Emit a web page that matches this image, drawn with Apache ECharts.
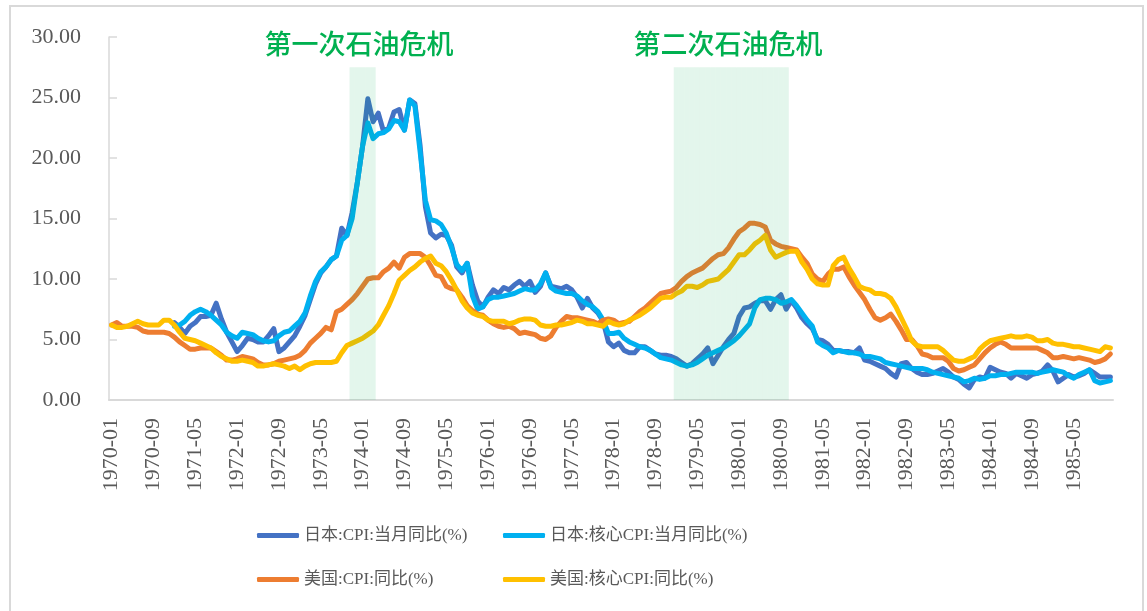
<!DOCTYPE html>
<html>
<head>
<meta charset="utf-8">
<script src="https://cdn.jsdelivr.net/npm/echarts@6/dist/echarts.min.js"></script>
<style>
  html, body { margin: 0; padding: 0; background: #fff; }
  #main { width: 1147px; height: 611px; }
</style>
</head>
<body>
<div id="main"></div>
<script>
// months 1970-01 .. 1985-12
const years = [1970, 1971, 1972, 1973, 1974, 1975, 1976, 1977, 1978, 1979, 1980, 1981, 1982, 1983, 1984, 1985];
const months = [];
years.forEach(function (y) {
  for (let m = 1; m <= 12; m++) months.push(y + "-" + (m < 10 ? "0" + m : m));
});

// 日本:CPI:当月同比(%)
const jpCpi = [
  null, null, null, null, null, null, null, null, null, null, null, null,
  6.4, 6.0, 5.5, 6.1, 6.4, 6.9, 6.9, 7.0, 8.0, 6.7, 5.6, 4.8,
  4.0, 4.5, 5.1, 5.0, 4.8, 4.8, 5.3, 5.9, 4.0, 4.3, 4.8, 5.3,
  6.1, 7.0, 8.3, 9.6, 10.5, 11.0, 11.6, 11.9, 14.2, 13.6, 15.5, 18.0,
  21.0, 24.9, 23.0, 23.7, 22.2, 22.5, 23.8, 24.0, 22.3, 24.8, 24.5, 21.0,
  16.0, 13.8, 13.4, 13.7, 13.6, 12.8, 11.0, 10.5, 11.3, 9.5, 8.2, 7.7,
  8.5, 9.1, 8.8, 9.3, 9.1, 9.5, 9.8, 9.4, 9.8, 8.9, 9.4, 10.5,
  9.4, 9.3, 9.2, 9.4, 9.1, 8.5, 7.6, 8.4, 7.6, 7.2, 6.5, 4.8,
  4.4, 4.7, 4.1, 3.9, 3.9, 4.4, 4.4, 4.1, 3.8, 3.7, 3.7, 3.6,
  3.4, 3.1, 2.8, 3.0, 3.4, 3.8, 4.3, 3.0, 3.7, 4.4, 5.0, 5.5,
  6.9, 7.6, 7.7, 8.0, 8.2, 8.2, 7.5, 8.3, 8.7, 7.5, 8.2, 7.6,
  6.8, 6.3, 5.9, 5.0, 4.9, 4.6, 4.1, 4.1, 4.0, 4.0, 3.9, 4.3,
  3.3, 3.2, 3.0, 2.8, 2.6, 2.2, 1.9, 3.0, 3.1, 2.6, 2.3, 2.1,
  2.1, 2.2, 2.4, 2.6, 2.3, 1.9, 1.7, 1.3, 1.0, 1.7, 1.9, 1.8,
  2.7, 2.5, 2.3, 2.2, 1.8, 2.2, 2.0, 1.8, 2.1, 2.2, 2.4, 2.9,
  2.4, 1.5, 1.8, 2.1, 1.9, 2.0, 2.2, 2.5, 2.2, 1.9, 1.9, 1.9
];

// 日本:核心CPI:当月同比(%)
const jpCore = [
  null, null, null, null, null, null, null, null, null, null, null, null,
  6.1, 6.2, 6.5, 7.0, 7.3, 7.5, 7.3, 7.0, 6.6, 6.2, 5.6, 5.3,
  5.1, 5.6, 5.5, 5.4, 5.1, 4.9, 4.8, 4.9, 5.3, 5.6, 5.7, 6.1,
  6.5, 7.2, 8.6, 9.8, 10.6, 11.0, 11.6, 11.9, 13.2, 13.6, 15.0, 18.0,
  21.0, 22.9, 21.6, 22.0, 22.1, 22.4, 23.1, 23.0, 22.3, 24.8, 24.3, 20.5,
  16.5, 14.9, 14.8, 14.5, 13.8, 12.6, 11.2, 10.7, 11.3, 8.6, 7.5, 7.7,
  8.3, 8.5, 8.5, 8.6, 8.7, 8.8, 9.0, 9.2, 9.1, 9.1, 9.6, 10.5,
  9.3, 9.0, 8.9, 8.8, 8.8, 8.6, 8.2, 7.9, 7.7, 7.3, 6.6, 5.5,
  5.5, 5.6, 5.1, 4.8, 4.6, 4.4, 4.3, 4.1, 3.8, 3.5, 3.4, 3.3,
  3.1, 2.9, 2.8, 2.9, 3.1, 3.4, 3.7, 3.9, 4.1, 4.3, 4.6, 4.9,
  5.3, 5.8, 6.3, 7.6, 8.3, 8.4, 8.4, 8.3, 8.0, 8.1, 8.3, 7.8,
  7.2, 6.6, 6.1, 4.8, 4.5, 4.3, 3.9, 4.1, 4.0, 3.9, 3.9, 3.8,
  3.6, 3.6, 3.5, 3.4, 3.1, 3.0, 2.9, 2.8, 2.7, 2.6, 2.6, 2.6,
  2.5, 2.3, 2.2, 2.1, 2.0, 1.9, 1.8, 1.5, 1.6, 1.8, 1.7, 1.8,
  2.0, 2.0, 2.1, 2.1, 2.2, 2.3, 2.3, 2.3, 2.3, 2.2, 2.3, 2.4,
  2.5, 2.4, 2.3, 2.0, 1.8, 2.1, 2.3, 2.5, 1.6, 1.4, 1.5, 1.6
];

// 美国:CPI:同比(%)
const usCpi = [
  6.2, 6.4, 6.1, 6.1, 6.1, 6.0, 5.7, 5.6, 5.6, 5.6, 5.6, 5.5,
  5.2, 4.8, 4.5, 4.2, 4.2, 4.3, 4.3, 4.3, 4.0, 3.7, 3.3, 3.3,
  3.4, 3.6, 3.5, 3.4, 3.1, 2.9, 2.9, 3.0, 3.2, 3.3, 3.4, 3.5,
  3.7, 4.1, 4.7, 5.1, 5.5, 6.0, 5.8, 7.3, 7.5, 7.9, 8.3, 8.8,
  9.4, 10.0, 10.1, 10.1, 10.6, 10.9, 11.4, 10.9, 11.8, 12.1, 12.1, 12.1,
  11.8, 11.1, 10.3, 10.2, 9.4, 9.2, 9.1, 8.5, 7.8, 7.4, 7.1, 7.0,
  6.6, 6.3, 6.1, 6.0, 6.1, 5.9, 5.5, 5.6, 5.5, 5.4, 5.1, 5.0,
  5.3, 6.0, 6.5, 6.9, 6.8, 6.8, 6.7, 6.6, 6.5, 6.3, 6.6, 6.7,
  6.6, 6.3, 6.4, 6.5, 6.9, 7.3, 7.6, 8.0, 8.4, 8.8, 8.9, 9.0,
  9.3, 9.8, 10.2, 10.5, 10.7, 10.9, 11.3, 11.7, 12.0, 12.1, 12.6, 13.3,
  13.9, 14.2, 14.6, 14.6, 14.5, 14.3, 13.2, 12.9, 12.7, 12.6, 12.5, 12.4,
  11.8, 11.3, 10.4, 10.0, 9.8, 10.4, 10.8, 10.8, 11.0, 10.2, 9.5, 8.9,
  8.3, 7.5, 6.8, 6.6, 6.8, 7.1, 6.5, 5.8, 5.0, 5.0, 4.5, 3.8,
  3.7, 3.5, 3.5, 3.5, 3.2, 2.6, 2.4, 2.5, 2.7, 2.9, 3.4, 3.9,
  4.3, 4.6, 4.8, 4.6, 4.3, 4.3, 4.3, 4.3, 4.3, 4.3, 4.1, 3.9,
  3.5, 3.5, 3.6, 3.5, 3.4, 3.5, 3.4, 3.3, 3.1, 3.2, 3.4, 3.8
];

// 美国:核心CPI:同比(%)
const usCore = [
  6.2, 6.0, 6.0, 6.1, 6.3, 6.5, 6.3, 6.2, 6.2, 6.2, 6.6, 6.6,
  6.2, 5.6, 5.1, 5.0, 4.9, 4.7, 4.5, 4.3, 3.9, 3.6, 3.4, 3.2,
  3.2, 3.3, 3.2, 3.1, 2.8, 2.8, 2.9, 3.0, 2.9, 2.8, 2.6, 2.8,
  2.5, 2.8, 3.0, 3.1, 3.1, 3.1, 3.1, 3.2, 3.9, 4.5, 4.7, 4.9,
  5.1, 5.4, 5.7, 6.2, 7.0, 7.8, 8.8, 9.9, 10.3, 10.7, 11.0, 11.4,
  11.7, 11.9, 11.3, 11.1, 10.6, 9.9, 9.1, 8.2, 7.6, 7.2, 7.0, 6.9,
  6.6, 6.5, 6.5, 6.5, 6.3, 6.4, 6.6, 6.7, 6.7, 6.6, 6.2, 6.1,
  6.1, 6.2, 6.2, 6.3, 6.4, 6.6, 6.5, 6.3, 6.3, 6.2, 6.1, 6.5,
  6.3, 6.2, 6.3, 6.6, 6.8, 7.0, 7.3, 7.6, 8.0, 8.4, 8.5, 8.5,
  8.8, 9.0, 9.4, 9.4, 9.3, 9.5, 9.8, 9.9, 10.0, 10.4, 10.8, 11.4,
  12.0, 12.0, 12.4, 12.9, 13.2, 13.6, 12.4, 11.8, 12.0, 12.2, 12.3, 12.3,
  11.4, 10.8, 10.0, 9.6, 9.5, 9.5, 11.1, 11.6, 11.8, 10.9, 10.2, 9.4,
  9.2, 9.1, 8.8, 8.8, 8.7, 8.4, 7.7, 6.8, 5.9, 4.9, 4.5, 4.4,
  4.4, 4.4, 4.4, 4.1, 3.7, 3.3, 3.2, 3.2, 3.4, 3.6, 4.2, 4.6,
  4.9, 5.0, 5.1, 5.2, 5.3, 5.2, 5.2, 5.3, 5.2, 4.9, 4.9, 5.0,
  4.7, 4.6, 4.6, 4.5, 4.4, 4.4, 4.3, 4.2, 4.1, 4.0, 4.4, 4.3
];

// shaded oil-crisis periods
const crisisRanges = [["1973-11", "1974-03"], ["1979-01", "1980-10"]];
const crisisTop = 27.5;
const crisisNames = ["第一次石油危机", "第二次石油危机"];

const seriesNames = ["日本:CPI:当月同比(%)", "日本:核心CPI:当月同比(%)", "美国:CPI:同比(%)", "美国:核心CPI:同比(%)"];
const colors = ["#4472C4", "#00B0F0", "#ED7D31", "#FFC000"];

const shadeData = months.map(function (m) {
  return crisisRanges.some(function (r) { return m >= r[0] && m <= r[1]; }) ? crisisTop : null;
});

const FONT = "'Liberation Serif', 'Noto Sans CJK SC', serif";

const myChart = echarts.init(document.getElementById("main"));

function lineSeries(name, data, color) {
  return {
    name: name,
    type: "line",
    data: data,
    symbol: "none",
    smooth: false,
    z: 2,
    lineStyle: { color: color, width: 5, cap: "round", join: "round" },
    itemStyle: { color: color }
  };
}

function legendCol(names, left) {
  return {
    data: names,
    orient: "vertical",
    left: left,
    top: 527,
    padding: 0,
    itemGap: 27,
    itemWidth: 42,
    itemHeight: 5,
    icon: "roundRect",
    textStyle: { fontSize: 17, color: "#595959", fontFamily: FONT }
  };
}

const option = {
  animation: false,
  backgroundColor: "#fff",
  color: colors,
  grid: { left: 109, right: 34, top: 37, bottom: 211, containLabel: false },
  legend: [
    legendCol([seriesNames[0], seriesNames[2]], 257),
    legendCol([seriesNames[1], seriesNames[3]], 503)
  ],
  xAxis: {
    type: "category",
    data: months,
    boundaryGap: true,
    axisLine: { lineStyle: { color: "#D9D9D9", width: 2 } },
    axisTick: { inside: true, length: 7, interval: 7, lineStyle: { color: "#D9D9D9", width: 1.5 } },
    axisLabel: {
      interval: 7,
      rotate: 90,
      margin: 18,
      fontSize: 22,
      color: "#595959",
      fontFamily: FONT
    },
    splitLine: { show: false }
  },
  yAxis: {
    type: "value",
    min: 0,
    max: 30,
    interval: 5,
    axisLine: { show: true, lineStyle: { color: "#D9D9D9", width: 1.5 } },
    axisTick: { show: true, inside: true, length: 8, lineStyle: { color: "#D9D9D9", width: 1.5 } },
    axisLabel: {
      margin: 28,
      fontSize: 22,
      color: "#595959",
      fontFamily: FONT,
      formatter: function (v) { return v.toFixed(2); }
    },
    splitLine: { show: false }
  },
  graphic: [
    {
      type: "rect",
      silent: true,
      shape: { x: 10, y: 6, width: 1133, height: 640 },
      style: { fill: "none", stroke: "#D9D9D9", lineWidth: 2 }
    },
    {
      type: "text",
      x: 359,
      y: 44,
      style: {
        text: crisisNames[0],
        fill: "#00B050",
        font: "500 27px 'Noto Sans CJK SC', serif",
        textAlign: "center",
        textVerticalAlign: "middle"
      }
    },
    {
      type: "text",
      x: 728,
      y: 44,
      style: {
        text: crisisNames[1],
        fill: "#00B050",
        font: "500 27px 'Noto Sans CJK SC', serif",
        textAlign: "center",
        textVerticalAlign: "middle"
      }
    }
  ],
  series: [
    lineSeries(seriesNames[0], jpCpi, colors[0]),
    lineSeries(seriesNames[1], jpCore, colors[1]),
    lineSeries(seriesNames[2], usCpi, colors[2]),
    lineSeries(seriesNames[3], usCore, colors[3]),
    {
      name: "石油危机",
      type: "bar",
      data: shadeData,
      barWidth: "100%",
      barCategoryGap: "0%",
      silent: true,
      z: 5,
      itemStyle: { color: "rgba(0,176,80,0.11)", borderWidth: 0 }
    }
  ]
};

myChart.setOption(option);
</script>
</body>
</html>
